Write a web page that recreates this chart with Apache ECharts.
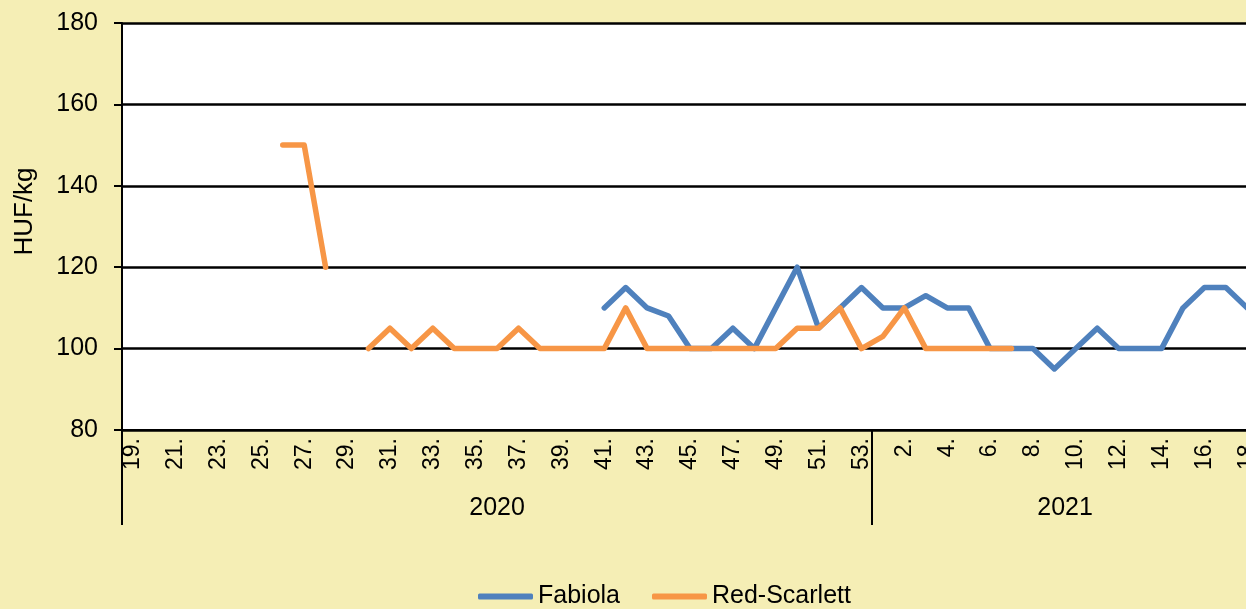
<!DOCTYPE html>
<html>
<head>
<meta charset="utf-8">
<script src="https://cdn.jsdelivr.net/npm/echarts@6/dist/echarts.min.js"></script>
<style>
html,body{margin:0;padding:0;background:#F5EEB5;}
#chart{width:1246px;height:609px;}
</style>
</head>
<body>
<div id="chart"></div>
<script>
// Weeks shown on the category axis
const years = ['2020', '2021'];
const weeks2020 = [19,20,21,22,23,24,25,26,27,28,29,30,31,32,33,34,35,36,37,38,39,40,41,42,43,44,45,46,47,48,49,50,51,52,53];
const weeks2021 = [1,2,3,4,5,6,7,8,9,10,11,12,13,14,15,16,17,18];

// HUF/kg values per week (null = no quotation)
const fabiola2020 = [null,null,null,null,null,null,null,null,null,null,null,null,null,null,null,null,null,null,null,null,null,null,
  110,115,110,108,100,100,105,100,110,120,105,110,115];
const fabiola2021 = [110,110,113,110,110,100,100,100,95,100,105,100,100,100,110,115,115,110];

const redScarlett2020 = [null,null,null,null,null,null,null,150,150,120,null,100,105,100,105,100,100,100,105,100,100,100,
  100,110,100,100,100,100,100,100,100,105,105,110,100];
const redScarlett2021 = [103,110,100,100,100,100,100,null,null,null,null,null,null,null,null,null,null,null];

const yTicks = {min: 80, max: 180, interval: 20};

const categories = weeks2020.map(w => w + '.').concat(weeks2021.map(w => w + '.'));
const fabiola = fabiola2020.concat(fabiola2021);
const redScarlett = redScarlett2020.concat(redScarlett2021);
const n2020 = weeks2020.length, nAll = categories.length;

const FONT = 'Liberation Sans, Arial, sans-serif';
const chart = echarts.init(document.getElementById('chart'));
chart.setOption({
  backgroundColor: '#F5EEB5',
  animation: false,
  grid: {left: 122, top: 23, bottom: 179, width: 1136, outerBoundsMode: 'none', containLabel: false,
         show: true, backgroundColor: '#ffffff', borderWidth: 0},
  legend: {
    left: 478, top: 584, padding: 0,
    icon: 'roundRect', itemWidth: 55, itemHeight: 6, itemGap: 32,
    textStyle: {fontFamily: FONT, fontSize: 25, color: '#000', padding: [0, 0, 0, 0]},
    data: ['Fabiola', 'Red-Scarlett']
  },
  xAxis: [{
    type: 'category',
    data: categories,
    boundaryGap: true,
    axisLine: {lineStyle: {color: '#000', width: 2}},
    axisTick: {show: false},
    axisLabel: {interval: 1, rotate: 90, margin: 8, fontFamily: FONT, fontSize: 23, color: '#000'},
    splitLine: {show: false}
  }, {
    type: 'value',
    position: 'bottom',
    min: 0, max: nAll,
    axisLine: {show: false},
    splitLine: {show: false},
    axisTick: {show: true, customValues: [0, n2020, nAll], length: 95, lineStyle: {color: '#000', width: 2}},
    axisLabel: {
      customValues: [n2020 / 2, n2020 + (nAll - n2020) / 2],
      formatter: v => (v < n2020 ? years[0] : years[1]),
      margin: 66, fontFamily: FONT, fontSize: 25, color: '#000'
    }
  }],
  yAxis: {
    type: 'value',
    min: yTicks.min, max: yTicks.max, interval: yTicks.interval,
    name: 'HUF/kg', nameLocation: 'middle', nameGap: 84,
    nameTextStyle: {fontFamily: FONT, fontSize: 26, color: '#000', padding: [0, 0, 0, 30]},
    axisLine: {show: true, lineStyle: {color: '#000', width: 2}},
    axisTick: {show: true, length: 8, lineStyle: {color: '#000', width: 2}},
    axisLabel: {margin: 24, fontFamily: FONT, fontSize: 25, color: '#000'},
    splitLine: {show: true, lineStyle: {color: '#000', width: 2.5}}
  },
  series: [{
    name: 'Fabiola', type: 'line', data: fabiola, xAxisIndex: 0,
    showSymbol: false, connectNulls: false,
    itemStyle: {color: '#4F81BD'},
    lineStyle: {color: '#4F81BD', width: 5.5, cap: 'round', join: 'round'}
  }, {
    name: 'Red-Scarlett', type: 'line', data: redScarlett, xAxisIndex: 0,
    showSymbol: false, connectNulls: false,
    itemStyle: {color: '#F79646'},
    lineStyle: {color: '#F79646', width: 5.5, cap: 'round', join: 'round'}
  }]
});
</script>
</body>
</html>
